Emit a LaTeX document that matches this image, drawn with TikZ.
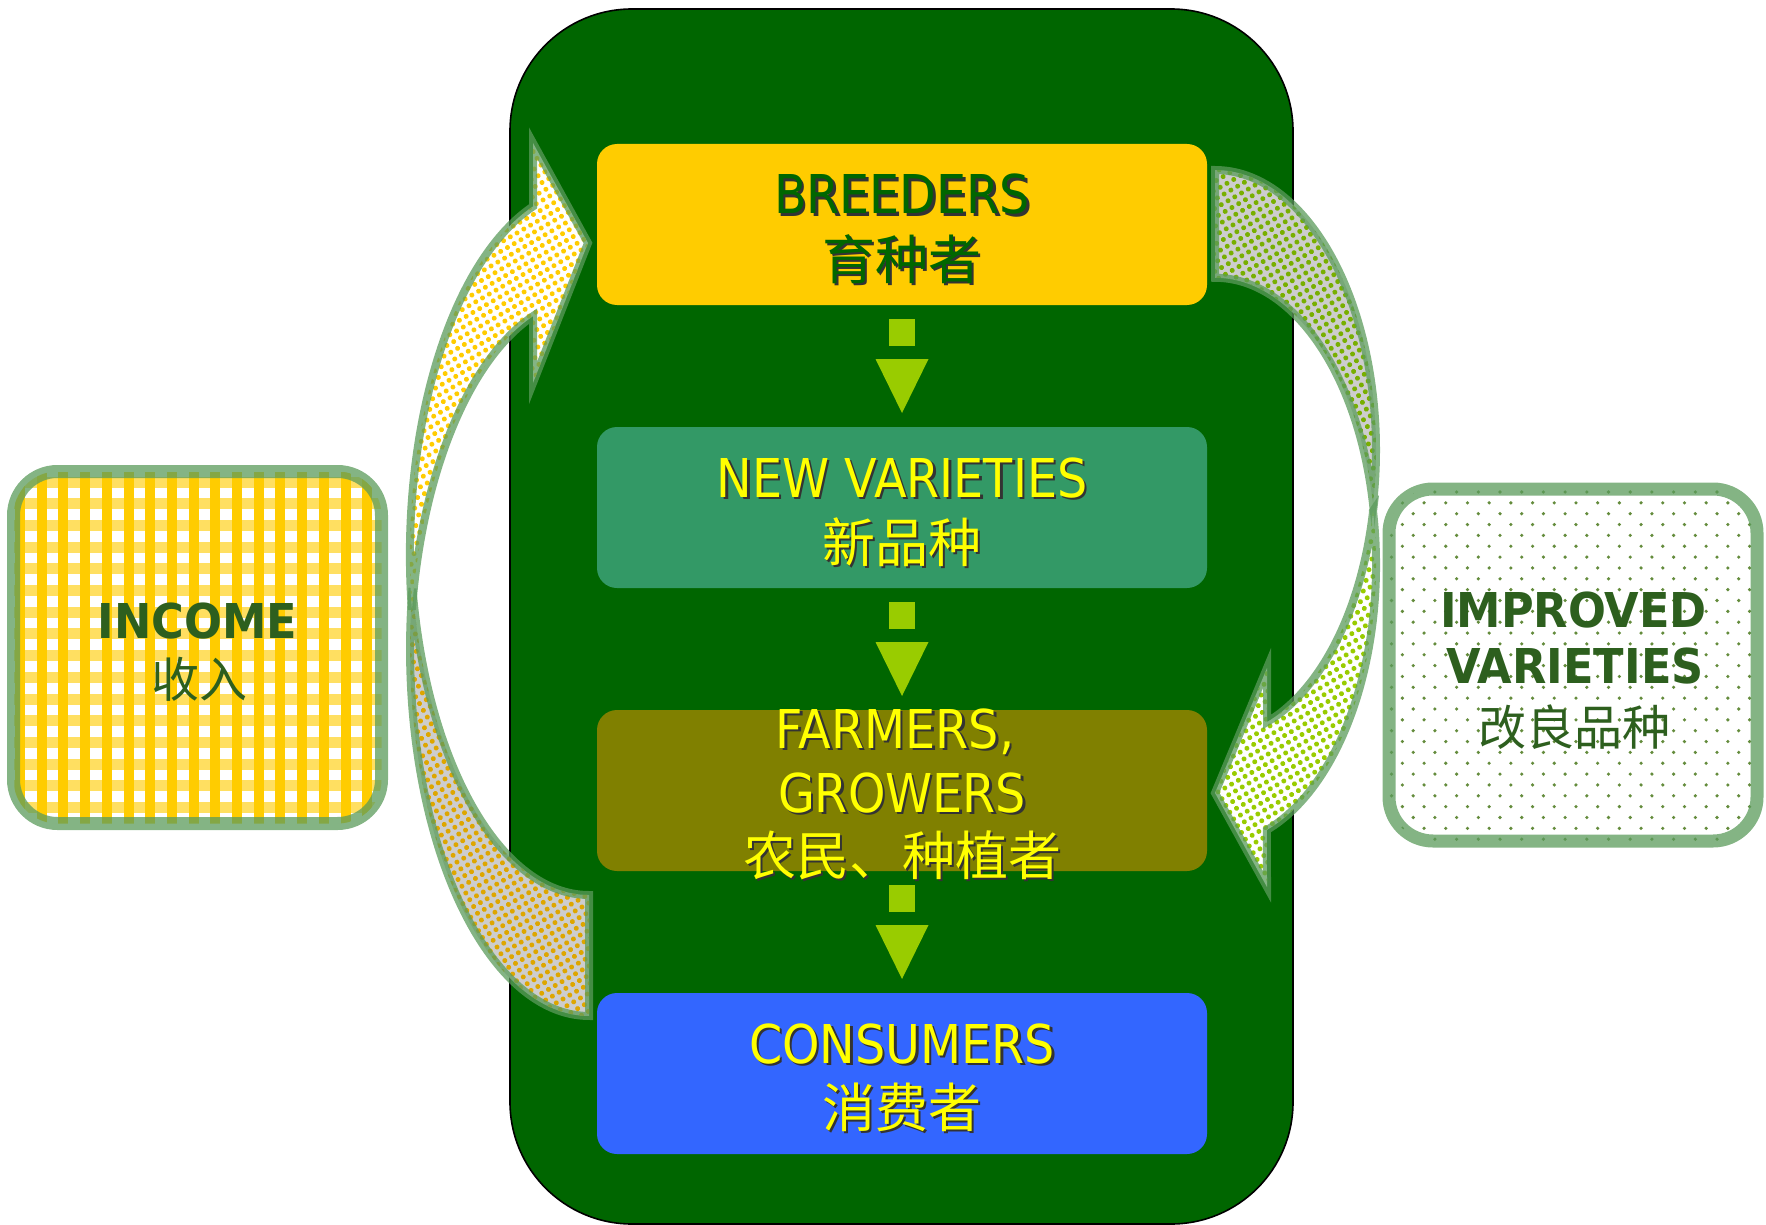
\documentclass[tikz,border=0pt]{standalone}
\usepackage{fontspec}
\usetikzlibrary{calc,patterns.meta}

\newfontfamily\latinfont{DejaVu Sans}[FakeStretch=0.89]
\newfontfamily\latinbold{DejaVu Sans}[FakeStretch=0.93]
\newfontfamily\hanfont{Noto Sans CJK SC}

\definecolor{panelgreen}{HTML}{006600}
\definecolor{breedgold}{HTML}{FFCC00}
\definecolor{varsea}{HTML}{339966}
\definecolor{farmolive}{HTML}{808000}
\definecolor{consblue}{HTML}{3366FF}
\definecolor{flowlime}{HTML}{99CC00}
\definecolor{rimgreen}{RGB}{91,155,91}
\definecolor{labelgreen}{RGB}{45,95,30}
\definecolor{backgrey}{HTML}{CDCDCD}
\definecolor{deepgold}{RGB}{222,166,0}
\definecolor{deeplime}{RGB}{120,175,0}
\definecolor{speckgreen}{RGB}{100,140,60}
\definecolor{textyellow}{HTML}{FFFF00}

% text with a small dark drop shadow
\newcommand\shd[1]{\leavevmode\rlap{\kern1.2pt\raisebox{-1.2pt}{\color{black!80}#1}}#1}

\begin{document}
\begin{tikzpicture}[x=0.5pt,y=-0.5pt,
  panelbox/.style={fill=panelgreen, draw=black, line width=0.8pt, rounded corners=61pt,
    minimum width=391.5pt, minimum height=607.5pt, inner sep=0pt, outer sep=0pt},
  stage/.style={rounded corners=10pt, minimum width=305pt, minimum height=80.5pt,
    inner sep=0pt, outer sep=0pt},
  sidebox/.style={minimum width=184pt, minimum height=176pt, inner sep=0pt, outer sep=0pt},
  rim/.style={draw=rimgreen, draw opacity=0.75, line width=6.5pt, rounded corners=22pt},
  bandrim/.style={draw=rimgreen, draw opacity=0.75, line width=4pt, line join=miter},
  frontband/.style={bandrim, preaction={fill=white},
    pattern={Dots[radius=1.25pt, distance=3.9pt, angle=30]}, pattern color=#1},
  backband/.style={bandrim, preaction={fill=backgrey},
    pattern={Dots[radius=1.25pt, distance=3.9pt, angle=30]}, pattern color=#1},
  flow/.style={fill=flowlime},
  head/.style={font=\latinfont\fontsize{26.75pt}{30pt}\selectfont, anchor=base, inner sep=0pt},
  han/.style={font=\hanfont\fontsize{26.5pt}{30pt}\selectfont, anchor=center, inner sep=0pt},
  sidehead/.style={font=\latinbold\bfseries\fontsize{24pt}{28pt}\selectfont, anchor=base,
    inner sep=0pt, text=labelgreen},
  sidehan/.style={font=\hanfont\fontsize{24pt}{28pt}\selectfont, anchor=center,
    inner sep=0pt, text=labelgreen}
]
\useasboundingbox (0,0) rectangle (1766,1225);

% central panel and the four stages
\node[panelbox] (panel) at (901.5,616.5) {};
\node[stage, fill=breedgold] (breeders) at (902,224.5) {};
\node[stage, fill=varsea] (newvar) at (902,507.5) {};
\node[stage, fill=farmolive] (farmers) at (902,790.5) {};
\node[stage, fill=consblue] (consumers) at (902,1073.5) {};

% block arrows between consecutive stages
\foreach \a/\b in {breeders/newvar, newvar/farmers, farmers/consumers}{
  \fill[flow] ($(\a.south)+(-13,14)$) rectangle ($(\a.south)+(13,41)$);
  \fill[flow] ($(\a.south)+(-26.5,54)$) -- ($(\a.south)+(26.5,54)$)
    -- ($(\b.north)+(0,-14)$) -- cycle;
}

% income loop: curved arrow from consumers back up to breeders
\path[backband=deepgold] (412.5,588.4)
  arc[start angle=189.5, end angle=90, x radius=179, y radius=367]
  -- (589,895)
  arc[start angle=90, end angle=170.5, x radius=179, y radius=367] -- cycle;
\path[frontband=breedgold] (533,206.4)
  arc[start angle=251.8, end angle=171.4, x radius=179, y radius=367]
  arc[start angle=188.6, end angle=251.8, x radius=179, y radius=367]
  -- (533,383) -- (588,243) -- (533,143) -- cycle;

% variety loop: curved arrow from breeders down to farmers
\path[backband=deeplime] (1215,170)
  arc[start angle=-90, end angle=11.1, x radius=161, y radius=280]
  arc[start angle=-11.1, end angle=-90, x radius=161, y radius=280] -- cycle;
\path[frontband=flowlime] (1373,511)
  arc[start angle=-11.1, end angle=71.2, x radius=161, y radius=280]
  -- (1267,887) -- (1215,793) -- (1267,668) -- (1267,722)
  arc[start angle=71.2, end angle=11.1, x radius=161, y radius=280] -- cycle;

% income box with gingham fill
\node[sidebox] (income) at (197.5,647.5) {};
\begin{scope}
  \clip[rounded corners=22pt] (income.north west) rectangle (income.south east);
  \fill[white] (income.north west) rectangle (income.south east);
  \foreach \k in {0,...,17}{
    \fill[breedgold!62] ($(income.north west)+(0,5+21.7*\k)$) rectangle ++(368,11);
  }
  \foreach \k in {0,...,17}{
    \fill[breedgold] ($(income.north west)+(1.5+21.7*\k,0)$) rectangle ++(10,352);
  }
\end{scope}
\draw[rim] (income.north west) rectangle (income.south east);

% improved varieties box with dotted fill
\node[sidebox] (improved) at (1573,665) {};
\begin{scope}
  \clip[rounded corners=22pt] (improved.north west) rectangle (improved.south east);
  \fill[white] (improved.north west) rectangle (improved.south east);
  \foreach \r in {0,...,32}{
    \pgfmathsetmacro\yy{3+10.85*\r}
    \pgfmathsetmacro\xo{mod(\r,2)*10.85}
    \foreach \c in {0,...,17}{
      \fill[speckgreen] ($(improved.north west)+({2.5+\xo+21.7*\c},\yy)$) circle[radius=1.8];
    }
  }
\end{scope}
\draw[rim] (improved.north west) rectangle (improved.south east);

% stage labels
\node[head, text=panelgreen] (tBreed) at (902,214) {\shd{BREEDERS}};
\node[han, text=panelgreen] (tBreedZh) at (902,260) {\shd{育种者}};
\node[head, text=textyellow] (tNew) at (902,497) {\shd{NEW VARIETIES}};
\node[han, text=textyellow] (tNewZh) at (902,543.5) {\shd{新品种}};
\node[head, text=textyellow] (tFarm) at (895,748) {\shd{FARMERS,}};
\node[head, text=textyellow] (tGrow) at (902,812) {\shd{GROWERS}};
\node[han, text=textyellow] (tFarmZh) at (902,856.5) {\shd{农民、种植者}};
\node[head, text=textyellow] (tCons) at (902,1063) {\shd{CONSUMERS}};
\node[han, text=textyellow] (tConsZh) at (902,1108.5) {\shd{消费者}};

% side labels
\node[sidehead] (tInc) at (197.5,638) {INCOME};
\node[sidehan] (tIncZh) at (199,679.5) {收入};
\node[sidehead] (tImp) at (1573.5,627) {IMPROVED};
\node[sidehead] (tVar) at (1575,683) {VARIETIES};
\node[sidehan] (tImpZh) at (1574.5,727) {改良品种};
\end{tikzpicture}
\end{document}
